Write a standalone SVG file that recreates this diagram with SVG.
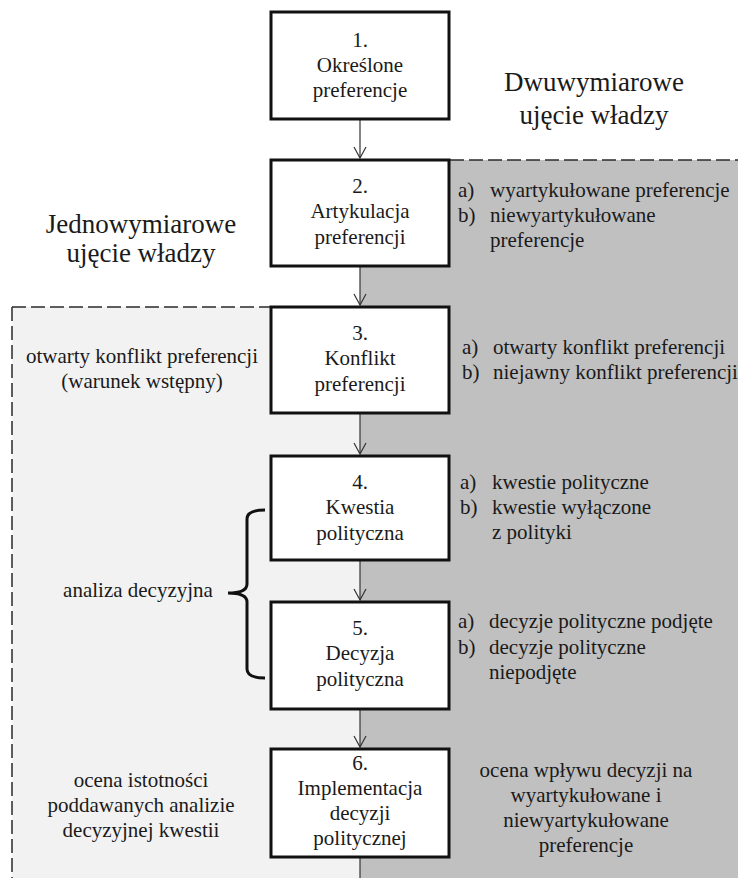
<svg xmlns="http://www.w3.org/2000/svg" width="738" height="878" viewBox="0 0 738 878">
<defs>
<style>
.t{font-size:21px;fill:#1a1a1a}
.c{text-anchor:middle}
.h{font-size:27px;fill:#1a1a1a;text-anchor:middle}
.box{fill:#fff;stroke:#111;stroke-width:3}
.dash{stroke:#2a2a2a;stroke-width:1.5;stroke-dasharray:14 5;fill:none}
.conn{stroke:#333;stroke-width:1.2;fill:none}
</style>
<marker id="arr" viewBox="-12 -7 14 14" refX="0" refY="0" markerWidth="14" markerHeight="14" markerUnits="userSpaceOnUse" orient="auto" overflow="visible">
<path d="M-11,-6 L0,0 L-11,6" fill="none" stroke="#333" stroke-width="1.2"/>
</marker>
</defs>
<rect width="738" height="878" fill="#fff"/>
<g id="regions">
<rect x="12" y="307" width="348" height="571" fill="#f2f2f2"/>
<rect x="360" y="160" width="378" height="718" fill="#c0c0c0"/>
<path class="dash" d="M450,160 H738"/>
<path class="dash" d="M12,307 H271 M12,307 V878"/>
</g>
<g id="connectors">
<line class="conn" x1="360" y1="120" x2="360" y2="158" marker-end="url(#arr)"/>
<line class="conn" x1="360" y1="267" x2="360" y2="305" marker-end="url(#arr)"/>
<line class="conn" x1="360" y1="414" x2="360" y2="454" marker-end="url(#arr)"/>
<line class="conn" x1="360" y1="561" x2="360" y2="600" marker-end="url(#arr)"/>
<line class="conn" x1="360" y1="710" x2="360" y2="747" marker-end="url(#arr)"/>
<line class="conn" x1="360" y1="858" x2="360" y2="878"/>
<path d="M265,510 Q247,510 247,519 L247,584 Q247,593 228,593 Q247,593 247,602 L247,669 Q247,678 265,678" fill="none" stroke="#111" stroke-width="3"/>
</g>
<g id="titles" font-family="Liberation Serif, Times New Roman, serif">
<text class="h" x="594" y="91">Dwuwymiarowe</text>
<text class="h" x="594" y="124">ujęcie władzy</text>
<text class="h" x="141" y="233">Jednowymiarowe</text>
<text class="h" x="141" y="262">ujęcie władzy</text>
</g>
<g id="nodes" font-family="Liberation Serif, Times New Roman, serif">
<g id="n1">
<rect class="box" x="271" y="12" width="178" height="107"/>
<text class="t c" x="360" y="47">1.</text>
<text class="t c" x="360" y="72">Określone</text>
<text class="t c" x="360" y="97">preferencje</text>
</g>
<g id="n2">
<rect class="box" x="271" y="160" width="178" height="106"/>
<text class="t c" x="360" y="193">2.</text>
<text class="t c" x="360" y="218">Artykulacja</text>
<text class="t c" x="360" y="244">preferencji</text>
<text class="t" x="458" y="197">a)</text>
<text class="t" x="490" y="197">wyartykułowane preferencje</text>
<text class="t" x="458" y="222">b)</text>
<text class="t" x="490" y="222">niewyartykułowane</text>
<text class="t" x="490" y="247">preferencje</text>
</g>
<g id="n3">
<rect class="box" x="271" y="307" width="178" height="106"/>
<text class="t c" x="360" y="340">3.</text>
<text class="t c" x="360" y="365">Konflikt</text>
<text class="t c" x="360" y="391">preferencji</text>
<text class="t" x="462" y="354">a)</text>
<text class="t" x="493" y="354">otwarty konflikt preferencji</text>
<text class="t" x="462" y="379">b)</text>
<text class="t" x="493" y="379">niejawny konflikt preferencji</text>
<text class="t c" x="142" y="363">otwarty konflikt preferencji</text>
<text class="t c" x="142" y="388">(warunek wstępny)</text>
</g>
<g id="n4">
<rect class="box" x="271" y="456" width="178" height="104"/>
<text class="t c" x="360" y="489">4.</text>
<text class="t c" x="360" y="514">Kwestia</text>
<text class="t c" x="360" y="540">polityczna</text>
<text class="t" x="460" y="489">a)</text>
<text class="t" x="492" y="489">kwestie polityczne</text>
<text class="t" x="460" y="514">b)</text>
<text class="t" x="492" y="514">kwestie wyłączone</text>
<text class="t" x="492" y="539">z polityki</text>
</g>
<g id="analiza">
<text class="t c" x="138" y="597">analiza decyzyjna</text>
</g>
<g id="n5">
<rect class="box" x="271" y="602" width="178" height="107"/>
<text class="t c" x="360" y="635">5.</text>
<text class="t c" x="360" y="660">Decyzja</text>
<text class="t c" x="360" y="686">polityczna</text>
<text class="t" x="458" y="628">a)</text>
<text class="t" x="489" y="628">decyzje polityczne podjęte</text>
<text class="t" x="458" y="654">b)</text>
<text class="t" x="489" y="654">decyzje polityczne</text>
<text class="t" x="489" y="679">niepodjęte</text>
</g>
<g id="n6">
<rect class="box" x="271" y="749" width="178" height="108"/>
<text class="t c" x="360" y="770">6.</text>
<text class="t c" x="360" y="795">Implementacja</text>
<text class="t c" x="360" y="820">decyzji</text>
<text class="t c" x="360" y="845">politycznej</text>
<text class="t c" x="141" y="787">ocena istotności</text>
<text class="t c" x="141" y="812">poddawanych analizie</text>
<text class="t c" x="141" y="837">decyzyjnej kwestii</text>
<text class="t c" x="586" y="777">ocena wpływu decyzji na</text>
<text class="t c" x="586" y="802">wyartykułowane i</text>
<text class="t c" x="586" y="827">niewyartykułowane</text>
<text class="t c" x="586" y="852">preferencje</text>
</g>
</g>
</svg>
